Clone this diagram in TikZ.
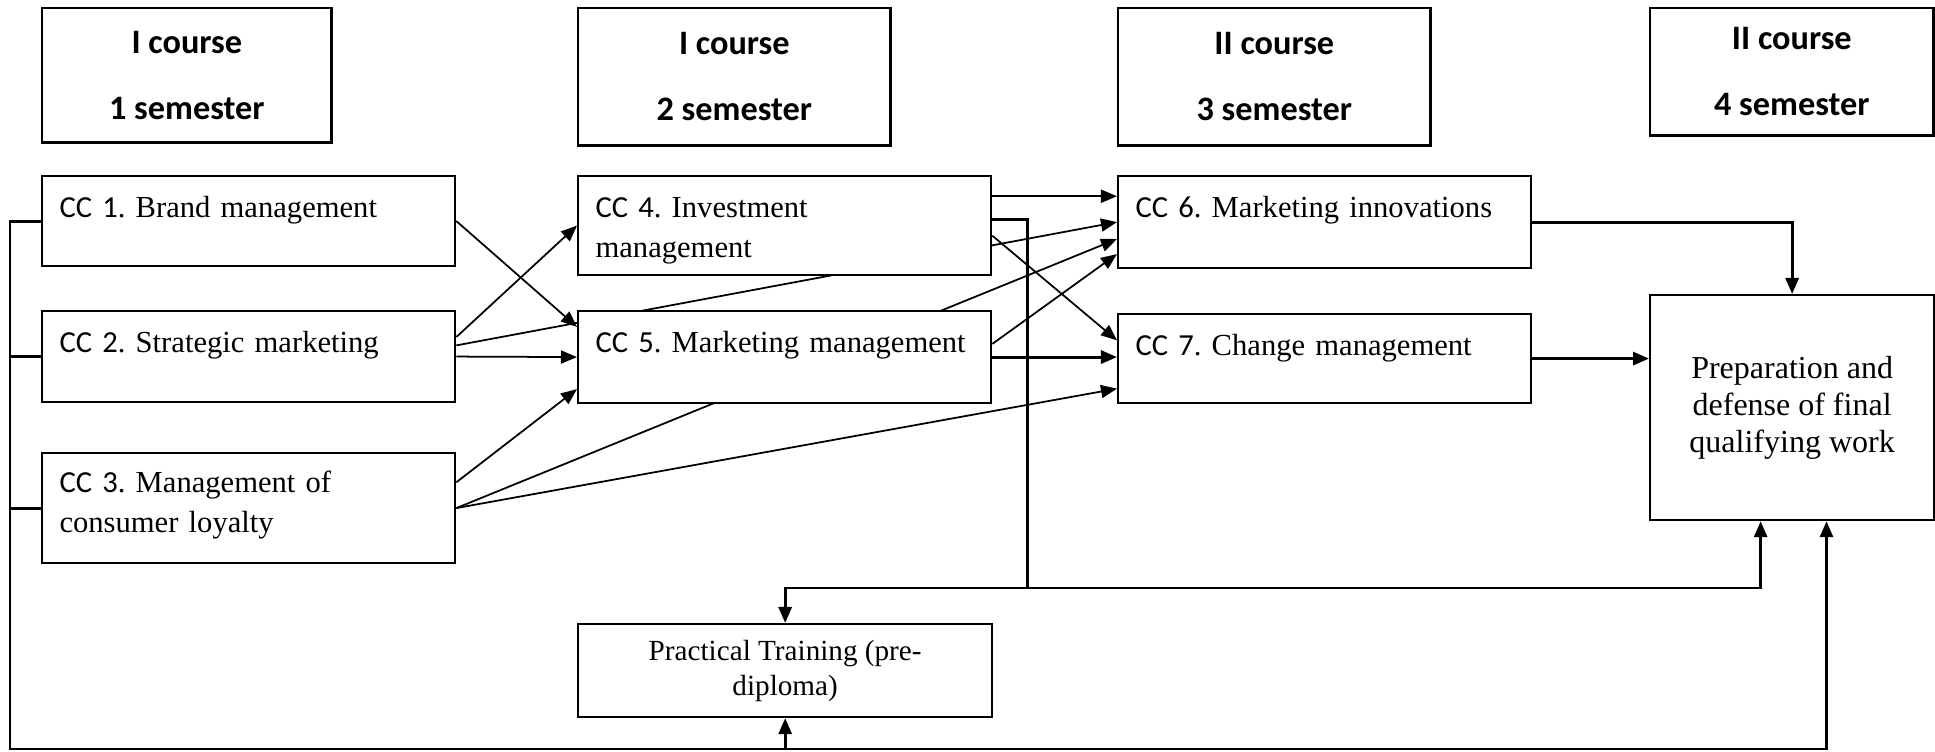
\documentclass[tikz,border=0pt]{standalone}
\usepackage{fontspec}
\setmainfont{Liberation Serif}
\newfontfamily\calfont{Carlito}
\usetikzlibrary{calc, positioning, backgrounds, arrows.meta}
\frenchspacing
\hyphenpenalty=10000
\newcommand{\ccn}[1]{{\calfont CC #1}}
\tikzset{
head/.style={draw, line width=0.7pt, anchor=north west, align=center,
	font=\calfont\bfseries\fontsize{9.75}{18.8}\selectfont},
course/.style={draw, line width=0.6pt, fill=white, anchor=north west,
	inner xsep=0.175cm, inner ysep=0pt, text width=3.78cm, align=left,
	text height=0.41cm, text depth=#1, font=\fontsize{8.7}{11.4}\selectfont},
box/.style={draw, line width=0.6pt, fill=white, anchor=north west, align=center},
flow/.style={-{Triangle[length=0.16cm, width=0.13cm]}},
link/.style={line width=0.5pt},
heavy/.style={line width=0.85pt},
}

\begin{document}
\begin{tikzpicture}[x=0.01cm, y=-0.01cm]
\useasboundingbox (0,0) rectangle (1935,752);
%Semester headers
\node[head, minimum width=2.89cm, minimum height=1.34cm] (h1) at (41,7) {I course\\1 semester};
\node[head, minimum width=3.12cm, minimum height=1.37cm] (h2) at (577,7) {I course\\2 semester};
\node[head, minimum width=3.12cm, minimum height=1.37cm] (h3) at (1117,7) {II course\\3 semester};
\node[head, minimum width=2.83cm, minimum height=1.27cm] (h4) at (1649,7) {II course\\4 semester};

%Courses
\node[course=0.49cm] (cc1) at (41,175) {\ccn{1}. Brand management};
\node[course=0.50cm] (cc2) at (41,310) {\ccn{2}. Strategic marketing};
\node[course=0.71cm, text height=0.39cm] (cc3) at (41,452) {\ccn{3}. Management of\\consumer loyalty};
\node[course=0.58cm] (cc4) at (577,175) {\ccn{4}. Investment\\management};
\node[course=0.51cm] (cc5) at (577,310) {\ccn{5}. Marketing management};
\node[course=0.51cm] (cc6) at (1117,175) {\ccn{6}. Marketing innovations};
\node[course=0.48cm] (cc7) at (1117,313) {\ccn{7}. Change management};

\node[box, minimum width=2.84cm, minimum height=2.25cm, font=\fontsize{9.1}{10.5}\selectfont] (prep) at (1649,294) {Preparation and\\defense of final\\qualifying work};
\node[box, minimum width=4.14cm, minimum height=0.93cm, font=\fontsize{8.3}{10}\selectfont] (prac) at (577,623) {Practical Training (pre-\\diploma)};

%Points on the edges
\coordinate (bus) at (10,749);
\coordinate (junc) at (1027,588);
\coordinate (cc2a) at ($(cc2.north east)!0.29!(cc2.south east)$);
\coordinate (cc2b) at ($(cc2.north east)!0.38!(cc2.south east)$);
\coordinate (cc3a) at ($(cc3.north east)!0.27!(cc3.south east)$);
\coordinate (cc4a) at ($(cc4.north east)!0.21!(cc4.south east)$);
\coordinate (cc4b) at ($(cc4.north east)!0.44!(cc4.south east)$);
\coordinate (cc4c) at ($(cc4.north east)!0.60!(cc4.south east)$);
\coordinate (cc5a) at ($(cc5.north east)!0.36!(cc5.south east)$);
\coordinate (cc5in1) at ($(cc5.north west)!0.18!(cc5.south west)$);
\coordinate (cc5in3) at ($(cc5.north west)!0.84!(cc5.south west)$);
\coordinate (cc6in3) at ($(cc6.north west)!0.68!(cc6.south west)$);
\coordinate (cc6in4) at ($(cc6.north west)!0.84!(cc6.south west)$);
\coordinate (cc7in1) at ($(cc7.north west)!0.30!(cc7.south west)$);
\coordinate (cc7in3) at ($(cc7.north west)!0.83!(cc7.south west)$);
\coordinate (prepin1) at ($(prep.south west)!0.39!(prep.south east)$);
\coordinate (prepin2) at ($(prep.south west)!0.62!(prep.south east)$);

\begin{scope}[on background layer]
% first semester
\draw[link, flow] (cc1.east) -- (cc5in1);
\draw[link, flow] (cc2a) -- (cc4.west);
\draw[link, flow] (cc2b) -- (cc6.west);
\draw[link, flow] (cc2.east) -- (cc5.west);
\draw[link, flow] (cc3a) -- (cc5in3);
\draw[link, flow] (cc3.east) -- (cc6in3);
\draw[link, flow] (cc3.east) -- (cc7in3);
% second semester
\draw[link, flow] (cc4a) -- (cc4a -| cc6.west);
\draw[link, flow] (cc4c) -- (cc7in1);
\draw[link, flow] (cc5a) -- (cc6in4);
\draw[heavy, flow] (cc5.east) -- (cc5.east -| cc7.west);
% third semester
\draw[heavy, flow] (cc6.east) -| (prep.north);
\draw[heavy, flow] (cc7.east) -- (cc7.east -| prep.west);
% practical training
\draw[heavy] (cc4b) -| (junc);
\draw[heavy, flow] (junc) -| (prac.north);
\draw[heavy, flow] (junc) -| (prepin1);
% left bus
\draw[heavy, flow] (cc1.west) -| (bus) -| (prepin2);
\draw[heavy] (cc2.west) -- (cc2.west -| bus);
\draw[heavy] (cc3.west) -- (cc3.west -| bus);
\draw[heavy, flow] (prac.south |- bus) -- (prac.south);
\end{scope}
\end{tikzpicture}
\end{document}
